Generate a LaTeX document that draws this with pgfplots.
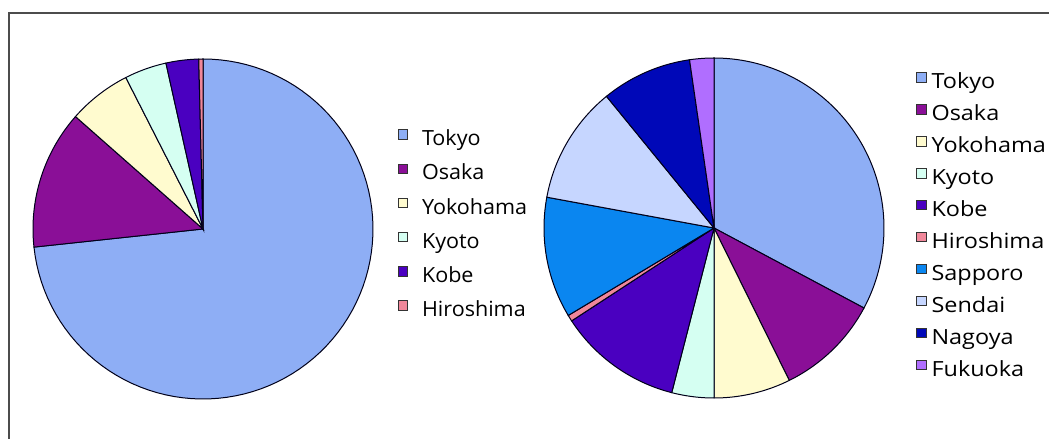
\documentclass[border=0pt]{standalone}
\usepackage{pgfplots}
\pgfplotsset{compat=1.18}
\usepackage{fontspec}
\setmainfont{Open Sans}
\newfontfamily\leftfont[FakeStretch=1.03]{Open Sans}
\newfontfamily\rightfont[FakeStretch=1.12]{Open Sans}
\definecolor{ctokyo}{HTML}{8EAEF5}
\definecolor{cosaka}{HTML}{8A0F97}
\definecolor{cyokohama}{HTML}{FFFBCF}
\definecolor{ckyoto}{HTML}{D5FFF2}
\definecolor{ckobe}{HTML}{4A00C0}
\definecolor{chiroshima}{HTML}{F0879A}
\definecolor{csapporo}{HTML}{0A86F0}
\definecolor{csendai}{HTML}{C6D6FF}
\definecolor{cnagoya}{HTML}{0008B8}
\definecolor{cfukuoka}{HTML}{B06EFF}
\newcommand\cum{0}
% #1 centre x, #2 centre y, #3 share in percent, #4 colour
\newcommand\slice[4]{%
  \pgfmathsetmacro\sa{\cum*3.6}%
  \pgfmathsetmacro\sb{(\cum+#3)*3.6}%
  \pgfmathsetmacro\nc{\cum+#3}\xdef\cum{\nc}%
  \edef\doslice{\noexpand\addplot[draw=black!90!blue, line width=1bp, fill=#4, domain=\sa:\sb, samples=90] ({#1+170*sin(x)},{#2+170*cos(x)}) -- (axis cs:#1,#2) -- cycle;}%
  \doslice}
\pgfplotsset{
  pieaxis/.style={at={(0,0)}, anchor=south west, scale only axis,
    width=1049bp, height=439bp, xmin=0, xmax=1049, ymin=0, ymax=439,
    hide axis, clip=false,
    legend cell align=left,
    legend image code/.code={\draw[##1, line width=0.7bp, draw=black!80] (0bp,1bp) rectangle (9.5bp,10.5bp); \path[draw=none,fill=none] (0bp,0bp) -- (#1,0bp);},
  },
}
\begin{document}
\begin{tikzpicture}
\useasboundingbox (0,0) rectangle (1049bp,439bp);
\fill[white] (0,0) rectangle (1049bp,439bp);
\draw[line width=1.5bp, black!70] (9bp,0bp) -- (9bp,426bp) -- (1049bp,426bp);
\begin{axis}[pieaxis=24bp,
  legend style={draw=none, fill=none, at={(394.5/1049,311.7/439)}, anchor=north west,
    font=\leftfont\fontsize{21}{25}\selectfont, row sep=13.8bp, column sep=0bp,
    nodes={inner sep=0pt, text height=15bp, text depth=4bp}}]
\gdef\cum{0}
\slice{203}{210}{73.3}{ctokyo}\addlegendentry{Tokyo}
\slice{203}{210}{13.2}{cosaka}\addlegendentry{Osaka}
\slice{203}{210}{6.0}{cyokohama}\addlegendentry{Yokohama}
\slice{203}{210}{4.0}{ckyoto}\addlegendentry{Kyoto}
\slice{203}{210}{3.1}{ckobe}\addlegendentry{Kobe}
\slice{203}{210}{0.4}{chiroshima}\addlegendentry{Hiroshima}
\end{axis}
\begin{axis}[pieaxis=15bp,
  legend style={draw=none, fill=none, at={(913/1049,369/439)}, anchor=north west,
    font=\rightfont\fontsize{21}{25}\selectfont, row sep=11.6bp, column sep=0bp,
    nodes={inner sep=0pt, text height=15bp, text depth=4bp}}]
\gdef\cum{0}
\slice{714}{211}{32.8}{ctokyo}\addlegendentry{Tokyo}
\slice{714}{211}{9.9}{cosaka}\addlegendentry{Osaka}
\slice{714}{211}{7.3}{cyokohama}\addlegendentry{Yokohama}
\slice{714}{211}{4.0}{ckyoto}\addlegendentry{Kyoto}
\slice{714}{211}{11.8}{ckobe}\addlegendentry{Kobe}
\slice{714}{211}{0.6}{chiroshima}\addlegendentry{Hiroshima}
\slice{714}{211}{11.5}{csapporo}\addlegendentry{Sapporo}
\slice{714}{211}{11.2}{csendai}\addlegendentry{Sendai}
\slice{714}{211}{8.6}{cnagoya}\addlegendentry{Nagoya}
\slice{714}{211}{2.3}{cfukuoka}\addlegendentry{Fukuoka}
\end{axis}
\end{tikzpicture}
\end{document}
